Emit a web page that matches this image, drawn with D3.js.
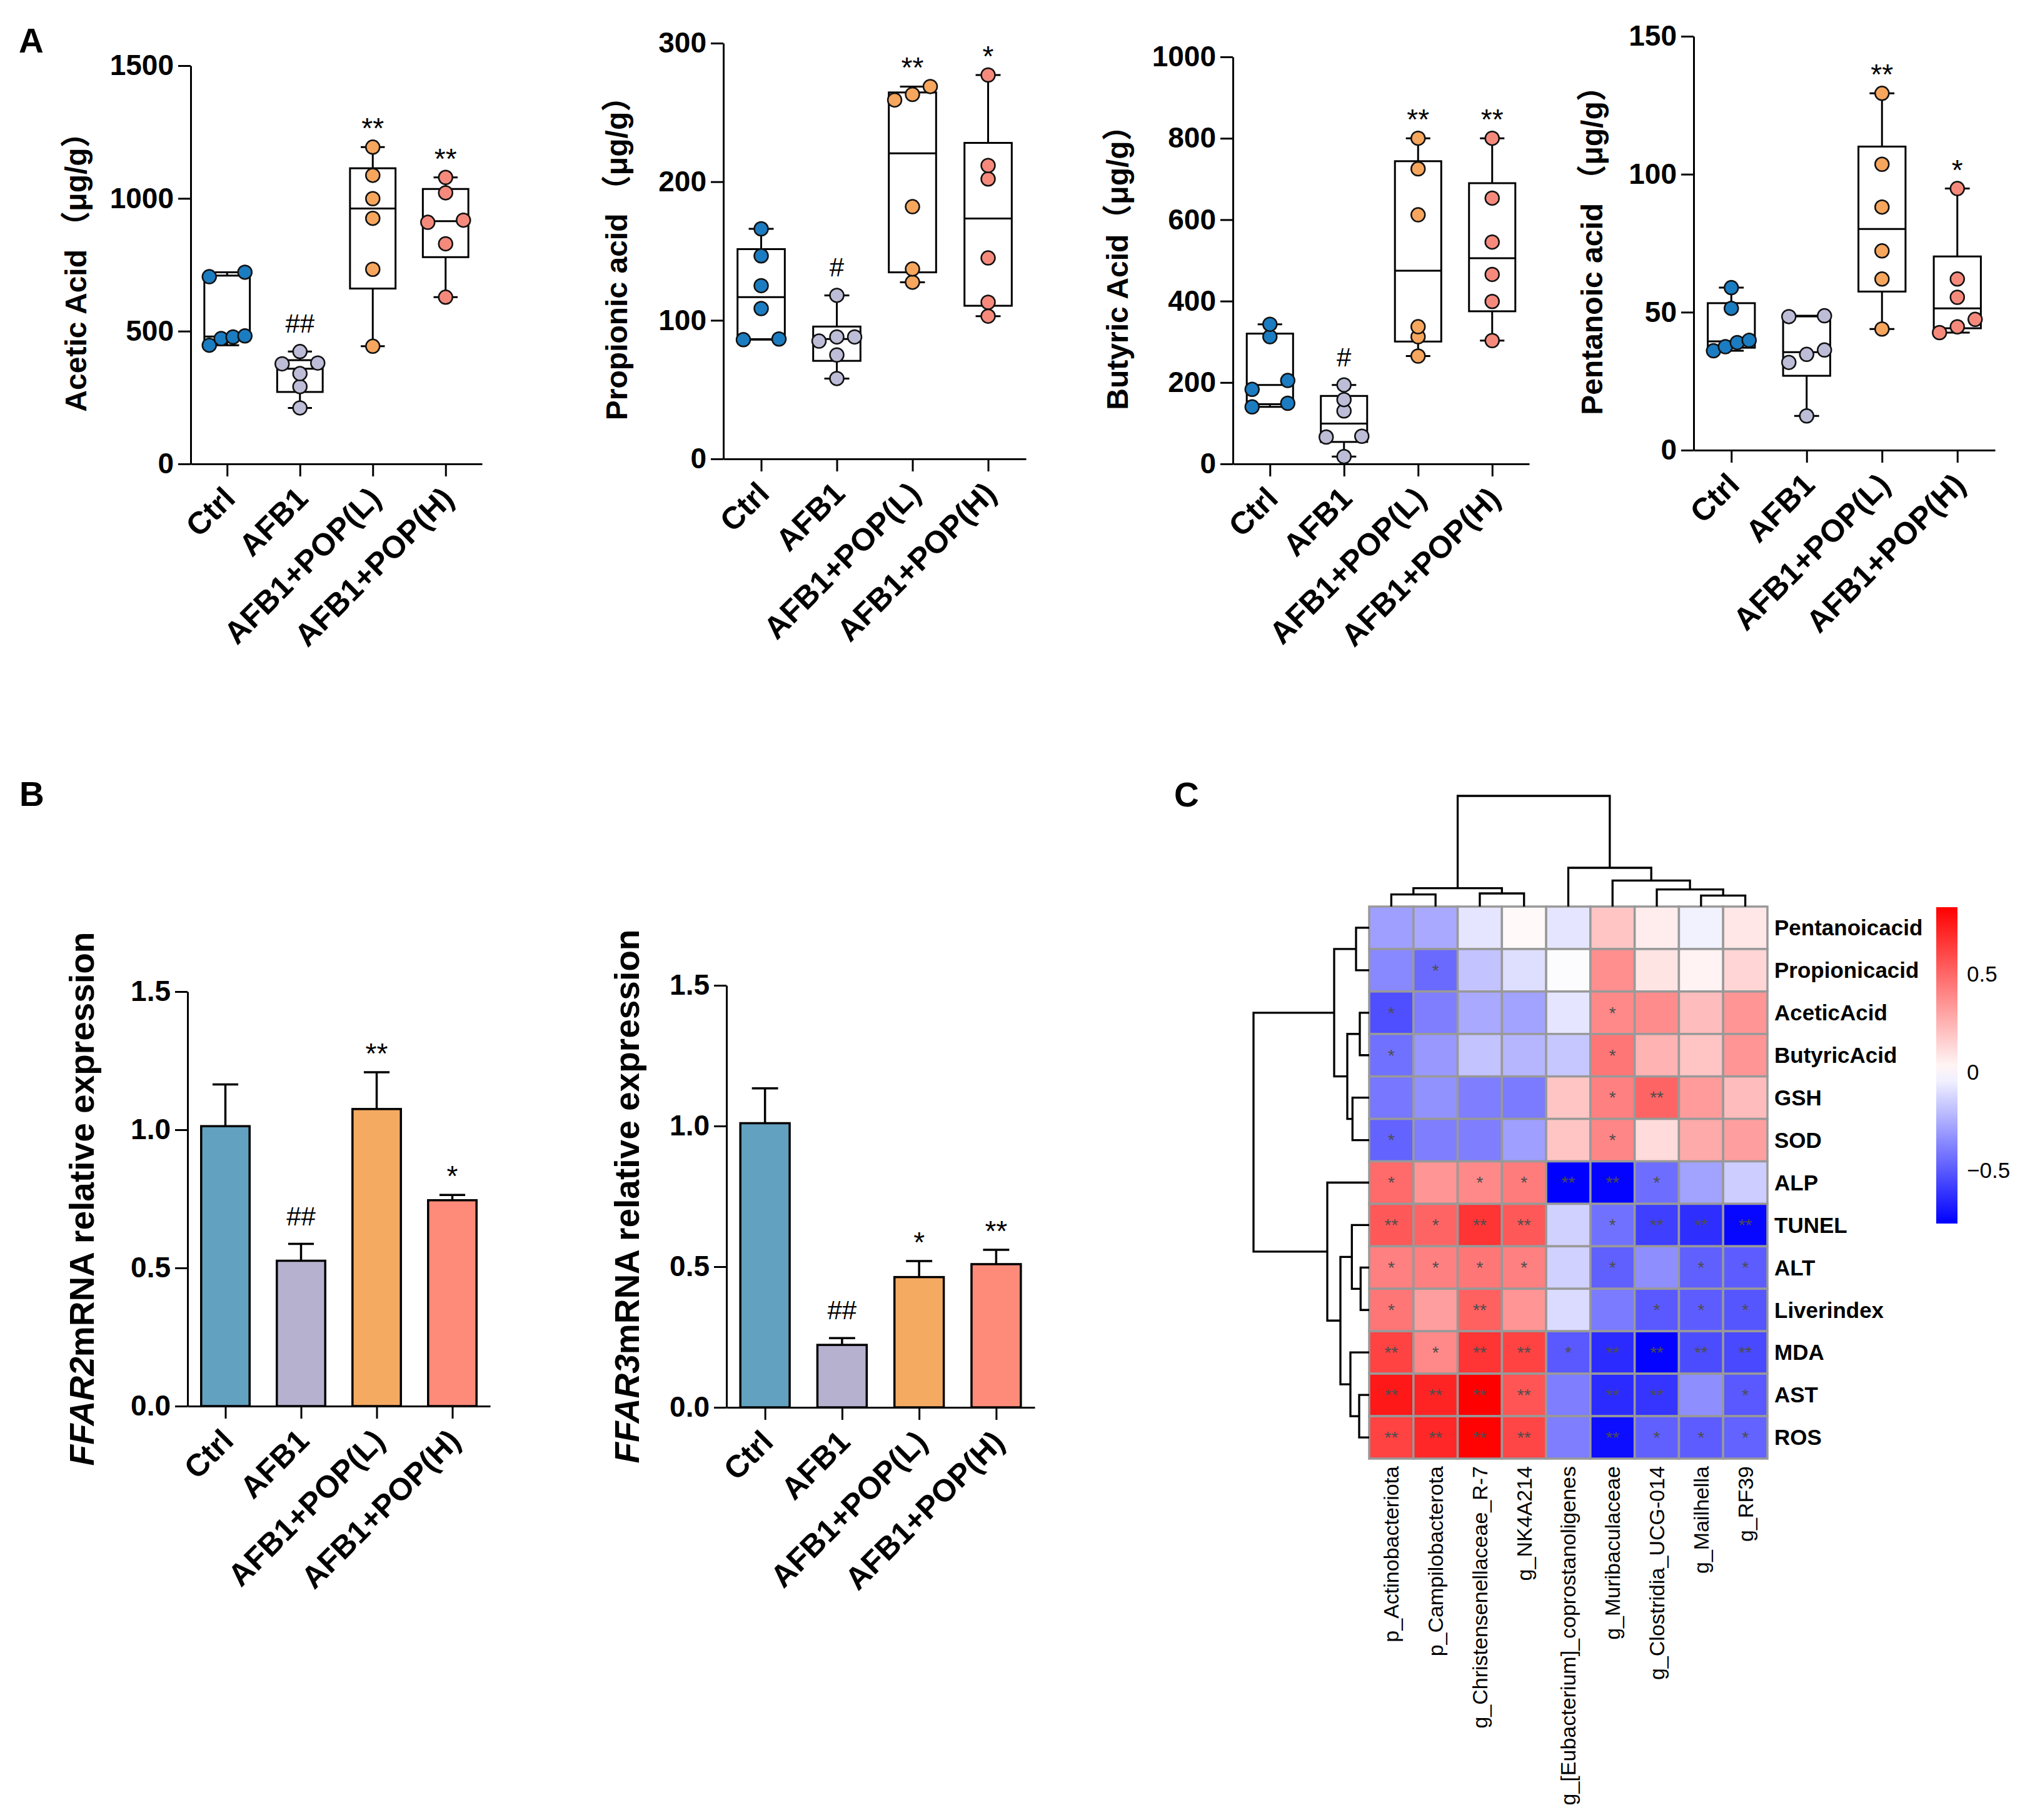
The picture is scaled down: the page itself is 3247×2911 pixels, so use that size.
<!DOCTYPE html>
<html>
<head>
<meta charset="utf-8">
<script src="https://cdn.jsdelivr.net/npm/d3@7"></script>
<style>
  body { margin: 0; background: #fff; }
  svg { display: block; }
  text { font-family: "Liberation Sans", Arial, "Noto Sans CJK SC", sans-serif; }
</style>
</head>
<body>
<svg id="fig" width="3247" height="2911"></svg>
<script>
// ---------------------------------------------------------------------------
// data
// ---------------------------------------------------------------------------

var groups = ["Ctrl", "AFB1", "AFB1+POP(L)", "AFB1+POP(H)"];

// panel A: six animals per group (ug/g)
var aceticAcid = [
  [447, 472, 478, 482, 705, 722],
  [211, 291, 340, 377, 380, 423],
  [443, 733, 925, 999, 1087, 1193],
  [628, 829, 910, 918, 1021, 1079]
];
var propionicAcid = [
  [86, 86.5, 108.5, 125, 146.5, 166],
  [58, 75, 85, 88, 88, 118],
  [127.5, 137, 182, 259, 263, 268.7],
  [103, 113, 145, 202, 211.7, 277]
];
var butyricAcid = [
  [140, 149, 183, 205, 312.5, 343],
  [18, 66, 68, 130, 158, 194],
  [265, 312.5, 337, 612, 725, 800],
  [303, 399, 465.5, 545, 653, 800]
];
var pentanoicAcid = [
  [36, 37.5, 39, 39.8, 51.4, 58.9],
  [12.4, 31.8, 34.7, 36.3, 48.4, 48.7],
  [43.9, 62, 72.2, 88.1, 103.6, 129.3],
  [42.6, 44.7, 47.4, 55.4, 62, 94.8]
];
var aceticSig = ["", "##", "**", "**"];
var propionicSig = ["", "#", "**", "*"];
var butyricSig = ["", "#", "**", "**"];
var pentanoicSig = ["", "", "**", "*"];

// panel B: mean and SEM
var ffar2Mean = [1.013, 0.526, 1.075, 0.745];
var ffar2Sem = [0.151, 0.061, 0.133, 0.019];
var ffar2Sig = ["", "##", "**", "*"];
var ffar3Mean = [1.010, 0.222, 0.463, 0.509];
var ffar3Sem = [0.124, 0.024, 0.057, 0.051];
var ffar3Sig = ["", "##", "*", "**"];

// panel C: spearman correlation heatmap
var taxa = ["p_Actinobacteriota", "p_Campilobacterota", "g_Christensenellaceae_R-7",
  "g_NK4A214", "g_[Eubacterium]_coprostanoligenes", "g_Muribaculaceae",
  "g_Clostridia_UCG-014", "g_Mailhella", "g_RF39"];
var indices = ["Pentanoicacid", "Propionicacid", "AceticAcid", "ButyricAcid", "GSH", "SOD",
  "ALP", "TUNEL", "ALT", "Liverindex", "MDA", "AST", "ROS"];
var corr = [
  [-0.29, -0.26, -0.08, 0.02, -0.08, 0.19, 0.06, -0.04, 0.08],
  [-0.36, -0.45, -0.18, -0.10, -0.01, 0.37, 0.09, 0.04, 0.14],
  [-0.53, -0.39, -0.26, -0.28, -0.08, 0.39, 0.38, 0.22, 0.35],
  [-0.43, -0.31, -0.18, -0.22, -0.17, 0.45, 0.25, 0.19, 0.35],
  [-0.41, -0.33, -0.39, -0.40, 0.19, 0.42, 0.51, 0.33, 0.22],
  [-0.47, -0.39, -0.39, -0.29, 0.19, 0.40, 0.12, 0.28, 0.32],
  [0.49, 0.35, 0.39, 0.43, -0.77, -0.76, -0.44, -0.28, -0.15],
  [0.55, 0.51, 0.67, 0.55, -0.14, -0.43, -0.58, -0.63, -0.75],
  [0.42, 0.42, 0.45, 0.42, -0.14, -0.48, -0.34, -0.48, -0.49],
  [0.45, 0.32, 0.52, 0.35, -0.11, -0.40, -0.50, -0.49, -0.51],
  [0.62, 0.39, 0.67, 0.62, -0.50, -0.64, -0.76, -0.54, -0.55],
  [0.76, 0.72, 0.84, 0.56, -0.39, -0.64, -0.61, -0.34, -0.50],
  [0.62, 0.71, 0.83, 0.61, -0.39, -0.73, -0.48, -0.49, -0.47]
];
var corrSig = [
  ["", "", "", "", "", "", "", "", ""],
  ["", "*", "", "", "", "", "", "", ""],
  ["*", "", "", "", "", "*", "", "", ""],
  ["*", "", "", "", "", "*", "", "", ""],
  ["", "", "", "", "", "*", "**", "", ""],
  ["*", "", "", "", "", "*", "", "", ""],
  ["*", "", "*", "*", "**", "**", "*", "", ""],
  ["**", "*", "**", "**", "", "*", "**", "**", "**"],
  ["*", "*", "*", "*", "", "*", "", "*", "*"],
  ["*", "", "**", "", "", "", "*", "*", "*"],
  ["**", "*", "**", "**", "*", "**", "**", "**", "**"],
  ["**", "**", "**", "**", "", "**", "**", "", "*"],
  ["**", "**", "**", "**", "", "**", "*", "*", "*"]
];
var corrTicks = [0.5, 0, -0.5];

// cluster trees: [left, right, merge height], leaves are display indices
var taxaTree = [[[0, 1, 1.93], [2, 3, 2.1], 2.93],
                [4, [5, [6, [7, 8, 1.77], 2.73], 4.17], 6.2], 17.7];
var indexTree = [[[0, 1, 2.1], [[2, 3, 1.5], [4, 5, 2.67], 3.5], 5.6],
                 [6, [[7, [8, 9, 1.37], 2.77], [10, [11, 12, 1.6], 3.0], 4.6], 6.7], 18.5];

// ---------------------------------------------------------------------------
// styles
// ---------------------------------------------------------------------------

var pointFill = ["#1b7cc1", "#bdbdd8", "#f6a65d", "#f58a7c"];
var barFill = ["#62a1c0", "#b6b1cf", "#f5aa62", "#fe8b79"];

var svg = d3.select("#fig");

function styleAxis(g) {
  g.select(".domain").attr("stroke", "#000").attr("stroke-width", 3);
  g.selectAll(".tick line").attr("stroke", "#000").attr("stroke-width", 3);
  g.selectAll(".tick text").attr("fill", "#000").attr("font-size", 46)
    .attr("font-weight", "bold")
    .attr("font-family", '"Liberation Sans", Arial, sans-serif');
}

function yTitle(x, y, parts, size) {
  var t = svg.append("text")
    .attr("transform", "translate(" + x + "," + y + ") rotate(-90)")
    .attr("text-anchor", "middle").attr("dy", "0.35em")
    .attr("font-size", size).attr("font-weight", "bold")
    .style("white-space", "pre");
  parts.forEach(function (p) {
    t.append("tspan").attr("font-style", p.italic ? "italic" : "normal").text(p.text);
  });
}

function sigMark(x, top, label) {
  if (!label) return;
  var hash = label.charAt(0) === "#";
  svg.append("text")
    .attr("x", x).attr("y", top - (hash ? 30 : 14))
    .attr("text-anchor", "middle")
    .attr("font-size", hash ? 42 : 46)
    .attr("font-family", hash ? '"Liberation Serif", serif' : '"Liberation Sans", Arial, sans-serif')
    .text(label);
}

// axes shared by panels A and B
function frame(c, tickFmt) {
  var x = d3.scalePoint().domain(groups).range([c.x0, c.x1]).padding(0.5);
  var y = d3.scaleLinear().domain([0, c.max]).range([c.y0, c.y1]);

  var gy = svg.append("g").attr("transform", "translate(" + c.x0 + ",0)")
    .call(d3.axisLeft(y).tickValues(c.ticks).tickFormat(tickFmt)
      .tickSize(20).tickSizeOuter(0).tickPadding(7));
  styleAxis(gy);

  var gx = svg.append("g").attr("transform", "translate(0," + c.y0 + ")")
    .call(d3.axisBottom(x).tickSize(20).tickSizeOuter(0));
  styleAxis(gx);
  gx.selectAll(".tick text")
    .attr("x", 0).attr("y", 0).attr("dy", "0.35em")
    .attr("font-size", 50)
    .attr("text-anchor", "end")
    .attr("transform", "translate(3,46) rotate(-45)");

  yTitle(c.tx, (c.y0 + c.y1) / 2, c.title, c.titleSize);
  return {x: x, y: y};
}

// quartiles the way prism computes them (p * (n + 1))
function quart(s, p) {
  var n = s.length, pos = p * (n + 1);
  if (pos <= 1) return s[0];
  if (pos >= n) return s[n - 1];
  var i = Math.floor(pos);
  return s[i - 1] + (pos - i) * (s[i] - s[i - 1]);
}

// spread points that sit on nearly the same level
function spread(vals, y, cx, r) {
  var pts = vals.map(function (v) { return {v: v, py: y(v)}; })
    .sort(function (a, b) { return b.py - a.py; });
  var rows = [], row = [];
  pts.forEach(function (p) {
    if (row.length && Math.abs(p.py - row[row.length - 1].py) > 15) {
      rows.push(row); row = [];
    }
    row.push(p);
  });
  rows.push(row);
  var half = 28.5;
  rows.forEach(function (rw) {
    var k = rw.length;
    rw.forEach(function (p, i) {
      p.px = k === 1 ? cx : cx - half + i * (2 * half) / (k - 1);
    });
  });
  return pts;
}

function boxChart(c) {
  var s = frame(c, d3.format("d"));
  var x = s.x, y = s.y;
  var bw = x.step() * 0.625, cw = x.step() * 0.33, r = 11;

  c.values.forEach(function (vals, gi) {
    var v = vals.slice().sort(d3.ascending);
    var cx = x(groups[gi]);
    var q1 = quart(v, 0.25), med = quart(v, 0.5), q3 = quart(v, 0.75);
    var lo = v[0], hi = v[v.length - 1];
    var g = svg.append("g").attr("stroke", "#000").attr("stroke-width", 3).attr("fill", "none");

    g.append("line").attr("x1", cx).attr("x2", cx).attr("y1", y(q3)).attr("y2", y(hi));
    g.append("line").attr("x1", cx).attr("x2", cx).attr("y1", y(q1)).attr("y2", y(lo));
    g.append("line").attr("x1", cx - cw / 2).attr("x2", cx + cw / 2).attr("y1", y(hi)).attr("y2", y(hi));
    g.append("line").attr("x1", cx - cw / 2).attr("x2", cx + cw / 2).attr("y1", y(lo)).attr("y2", y(lo));
    g.append("rect").attr("x", cx - bw / 2).attr("width", bw)
      .attr("y", y(q3)).attr("height", y(q1) - y(q3)).attr("fill", "#fff");
    g.append("line").attr("x1", cx - bw / 2).attr("x2", cx + bw / 2).attr("y1", y(med)).attr("y2", y(med));

    svg.append("g").selectAll("circle")
      .data(spread(vals, y, cx, r))
      .join("circle")
      .attr("cx", function (p) { return p.px; })
      .attr("cy", function (p) { return p.py; })
      .attr("r", r)
      .attr("fill", pointFill[gi]).attr("stroke", "#111").attr("stroke-width", 2.5);

    sigMark(cx, y(hi), c.sig[gi]);
  });
}

function barChart(c) {
  var s = frame(c, d3.format(".1f"));
  var x = s.x, y = s.y;
  var bw = x.step() * 0.64, cw = x.step() * 0.34;

  c.mean.forEach(function (m, gi) {
    var cx = x(groups[gi]), top = m + c.sem[gi];
    var g = svg.append("g").attr("stroke", "#000").attr("stroke-width", 3.5);
    g.append("line").attr("x1", cx).attr("x2", cx).attr("y1", y(m)).attr("y2", y(top));
    g.append("line").attr("x1", cx - cw / 2).attr("x2", cx + cw / 2).attr("y1", y(top)).attr("y2", y(top));
    g.append("rect").attr("x", cx - bw / 2).attr("width", bw)
      .attr("y", y(m)).attr("height", y(0) - y(m)).attr("fill", barFill[gi]);
    sigMark(cx, y(top), c.sig[gi]);
  });
}

function panelLetter(x, y, t) {
  svg.append("text").attr("x", x).attr("y", y).attr("font-size", 55)
    .attr("font-weight", "bold").text(t);
}

///////////////////////////////////////////////////////////////////////////////
// Panel A
///////////////////////////////////////////////////////////////////////////////

panelLetter(30, 84, "A");

boxChart({values: aceticAcid, sig: aceticSig, max: 1500, ticks: [0, 500, 1000, 1500],
  x0: 305, x1: 771, y0: 742, y1: 105, tx: 121, titleSize: 48,
  title: [{text: "Acetic Acid （μg/g）"}]});
boxChart({values: propionicAcid, sig: propionicSig, max: 300, ticks: [0, 100, 200, 300],
  x0: 1157, x1: 1641, y0: 734, y1: 69, tx: 986, titleSize: 48,
  title: [{text: "Propionic acid （μg/g）"}]});
boxChart({values: butyricAcid, sig: butyricSig, max: 1000, ticks: [0, 200, 400, 600, 800, 1000],
  x0: 1972, x1: 2446, y0: 742, y1: 91, tx: 1787, titleSize: 48,
  title: [{text: "Butyric Acid（μg/g）"}]});
boxChart({values: pentanoicAcid, sig: pentanoicSig, max: 150, ticks: [0, 50, 100, 150],
  x0: 2709, x1: 3191, y0: 720, y1: 58, tx: 2546, titleSize: 48,
  title: [{text: "Pentanoic acid （μg/g）"}]});

///////////////////////////////////////////////////////////////////////////////
// Panel B
///////////////////////////////////////////////////////////////////////////////

panelLetter(31, 1289, "B");

barChart({mean: ffar2Mean, sem: ffar2Sem, sig: ffar2Sig, max: 1.5, ticks: [0, 0.5, 1, 1.5],
  x0: 300, x1: 784, y0: 2249, y1: 1586, tx: 131, titleSize: 55,
  title: [{text: "FFAR2", italic: true}, {text: "mRNA relative expression"}]});
barChart({mean: ffar3Mean, sem: ffar3Sem, sig: ffar3Sig, max: 1.5, ticks: [0, 0.5, 1, 1.5],
  x0: 1162, x1: 1655, y0: 2251, y1: 1576, tx: 1003, titleSize: 55,
  title: [{text: "FFAR3", italic: true}, {text: "mRNA relative expression"}]});

///////////////////////////////////////////////////////////////////////////////
// Panel C
///////////////////////////////////////////////////////////////////////////////

panelLetter(1878, 1290, "C");

var hx = d3.scaleBand().domain(d3.range(taxa.length)).range([2190, 2827]);
var hy = d3.scaleBand().domain(d3.range(indices.length)).range([1450, 2333]);
var ext = d3.extent(corr.flat());
var color = d3.scaleLinear().domain([ext[0], 0, ext[1]]).range(["#0000ff", "#ffffff", "#ff0000"]);

var cells = [];
corr.forEach(function (row, i) {
  row.forEach(function (v, j) { cells.push({i: i, j: j, v: v, s: corrSig[i][j]}); });
});

svg.append("g").selectAll("rect").data(cells).join("rect")
  .attr("x", function (d) { return hx(d.j); })
  .attr("y", function (d) { return hy(d.i); })
  .attr("width", hx.bandwidth()).attr("height", hy.bandwidth())
  .attr("fill", function (d) { return color(d.v); })
  .attr("stroke", "#999999").attr("stroke-width", 3.5);

svg.append("g").selectAll("text").data(cells.filter(function (d) { return d.s; })).join("text")
  .attr("x", function (d) { return hx(d.j) + hx.bandwidth() / 2; })
  .attr("y", function (d) { return hy(d.i) + hy.bandwidth() / 2; })
  .attr("dy", "0.35em").attr("text-anchor", "middle")
  .attr("font-size", 28).attr("fill", "#4d4d4d")
  .text(function (d) { return d.s; });

// row labels
svg.append("g").selectAll("text").data(indices).join("text")
  .attr("x", hx.range()[1] + 11)
  .attr("y", function (d, i) { return hy(i) + hy.bandwidth() / 2; })
  .attr("dy", "0.35em").attr("font-size", 35).attr("font-weight", "bold")
  .text(function (d) { return d; });

// column labels
svg.append("g").selectAll("text").data(taxa).join("text")
  .attr("transform", function (d, j) {
    return "translate(" + (hx(j) + hx.bandwidth() / 2) + "," + (hy.range()[1] + 12) + ") rotate(-90)";
  })
  .attr("dy", "0.35em").attr("text-anchor", "end").attr("font-size", 34)
  .text(function (d) { return d; });

// dendrograms
function dendrogram(tree, leafPos, hScale, vertical) {
  var root = d3.hierarchy(tree, function (d) { return Array.isArray(d) ? d.slice(0, 2) : null; });
  root.eachAfter(function (n) {
    n.pos = n.children ? d3.mean(n.children, function (c) { return c.pos; }) : leafPos(n.data);
    n.h = n.children ? n.data[2] : 0;
  });
  var line = d3.line()
    .x(function (p) { return vertical ? p[0] : hScale(p[1]); })
    .y(function (p) { return vertical ? hScale(p[1]) : p[0]; });
  svg.append("g").selectAll("path")
    .data(root.descendants().filter(function (n) { return n.children; }))
    .join("path")
    .attr("d", function (n) {
      var a = n.children[0], b = n.children[1];
      return line([[a.pos, a.h], [a.pos, n.h], [b.pos, n.h], [b.pos, b.h]]);
    })
    .attr("fill", "none").attr("stroke", "#000").attr("stroke-width", 3.3);
}

dendrogram(taxaTree,
  function (j) { return hx(j) + hx.bandwidth() / 2; },
  d3.scaleLinear().domain([0, taxaTree[2]]).range([hy.range()[0], 1273]), true);
dendrogram(indexTree,
  function (i) { return hy(i) + hy.bandwidth() / 2; },
  d3.scaleLinear().domain([0, indexTree[2]]).range([hx.range()[0], 2005]), false);

// colour key
var ky = d3.scaleLinear().domain(ext).range([1957, 1451]);
var grad = svg.append("defs").append("linearGradient").attr("id", "key")
  .attr("x1", 0).attr("y1", 1).attr("x2", 0).attr("y2", 0);
grad.selectAll("stop").data(d3.range(0, 1.0001, 0.05)).join("stop")
  .attr("offset", function (t) { return t; })
  .attr("stop-color", function (t) { return color(ext[0] + t * (ext[1] - ext[0])); });
svg.append("rect").attr("x", 3097).attr("width", 34)
  .attr("y", ky(ext[1])).attr("height", ky(ext[0]) - ky(ext[1]))
  .attr("fill", "url(#key)");
svg.append("g").selectAll("text").data(corrTicks).join("text")
  .attr("x", 3146).attr("y", function (v) { return ky(v); })
  .attr("dy", "0.35em").attr("font-size", 35)
  .text(function (v) { return v === 0 ? "0" : d3.format(".1f")(v); });
</script>
</body>
</html>
